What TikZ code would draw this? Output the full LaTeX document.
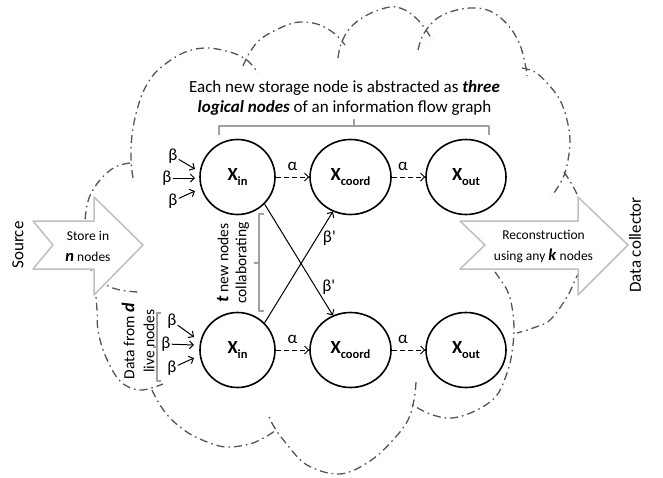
\documentclass[tikz,border=0pt]{standalone}
\usepackage{fontspec}
\setmainfont{Carlito}
\usetikzlibrary{arrows.meta,shapes.geometric}
\definecolor{cloudgray}{HTML}{555555}
\definecolor{arrowgray}{HTML}{BFBFBF}
\definecolor{brkgray}{HTML}{A0A0A0}
\newcommand{\xlab}[1]{{\fontsize{18.5}{18.5}\selectfont\bfseries X\raisebox{-4.5pt}{\fontsize{12.5}{12.5}\selectfont #1}}}
\newcommand{\bitx}[1]{\textbf{\textit{#1}}}
\begin{document}
\begin{tikzpicture}[x=1pt,y=-1pt,line join=round,
  cloudl/.style={draw=cloudgray, line width=1.3pt, dash pattern=on 8pt off 4pt on 1.6pt off 4pt},
  blockarrow/.style={draw=arrowgray, line width=1.5pt, fill=white},
  xnode/.style={draw=black, line width=1.6pt, ellipse, inner sep=0pt, minimum height=75pt},
  alph/.style={-{Straight Barb[length=4pt,width=8pt]}, line width=1pt, dash pattern=on 5pt off 3pt},
  sarr/.style={-{Straight Barb[length=4pt,width=8pt]}, line width=1pt},
  lbl/.style={font=\fontsize{17}{17}\selectfont, inner sep=1pt},
  brk/.style={draw=brkgray, line width=1.3pt}]
\useasboundingbox (0,0) rectangle (663,477);
% ---------- cloud ----------
\draw[cloudl] plot[smooth, tension=0.6] coordinates {(133,178) (131,160) (132,135) (137,110) (145,88) (158,70) (183,53) (207,48) (233,53) (248,61) (258,73)};
\draw[cloudl] plot[smooth, tension=0.6] coordinates {(243,66) (250,52) (262,38) (287,25) (303,22) (320,25) (335,34) (345,45)};
\draw[cloudl] plot[smooth, tension=0.6] coordinates {(338,58) (341,44) (350,28) (367,15) (390,7) (405,10) (418,20) (428,33) (432,40)};
\draw[cloudl] plot[smooth, tension=0.6] coordinates {(418,50) (423,35) (435,20) (450,12) (470,8) (490,11) (508,25) (520,45) (526,68) (527,76)};
\draw[cloudl] plot[smooth, tension=0.6] coordinates {(522,68) (535,72) (548,84) (560,100) (567,120) (570,140) (568,160) (563,178) (552,196)};
\draw[cloudl] plot[smooth, tension=0.6] coordinates {(564,172) (575,190) (585,215) (588,240) (584,262) (576,278) (567,297) (550,320) (533,328) (517,333)};
\draw[cloudl] plot[smooth, tension=0.6] coordinates {(495,272) (507,290) (512,307) (514,330) (512,352) (508,370) (497,395) (477,410) (452,418) (430,414) (411,404)};
\draw[cloudl] plot[smooth, tension=0.6] coordinates {(416,382) (414,400) (408,420) (393,440) (370,461) (340,474) (307,465) (285,442) (273,425) (268,414)};
\draw[cloudl] plot[smooth, tension=0.6] coordinates {(152,390) (160,405) (172,420) (190,434) (210,443) (227,447) (250,444) (267,436) (276,430)};
\draw[cloudl] plot[smooth, tension=0.6] coordinates {(95,285) (97,310) (98,330) (105,355) (120,381) (140,390) (163,384)};
\draw[cloudl] plot[smooth, tension=0.6] coordinates {(130,163) (115,167) (100,180) (89,198) (85,220) (84,245) (90,268) (105,284) (120,290) (138,292)};
% ---------- block arrows ----------
\draw[blockarrow] (33,221) -- (53,245) -- (33,269) -- (94,269) -- (94,295) -- (143,245) -- (94,197) -- (94,221) -- cycle;
\draw[blockarrow] (460,221) -- (485,245) -- (460,269) -- (578,269) -- (578,295) -- (628,245) -- (578,197) -- (578,221) -- cycle;
\node[font=\fontsize{13.5}{21}\selectfont, align=center] (store) at (88,246) {Store in\\{\fontsize{16.5}{16.5}\selectfont\bitx{n}} nodes};
\node[font=\fontsize{13.5}{21}\selectfont, align=center] (recon) at (543.5,246) {Reconstruction\\using any {\fontsize{16.5}{16.5}\selectfont\bitx{k}} nodes};
\node[font=\fontsize{17}{17}\selectfont, rotate=90] (src) at (18,245) {Source};
\node[font=\fontsize{17}{17}\selectfont, rotate=90] (dc) at (635,245) {Data collector};
% ---------- title and brackets ----------
\node[font=\fontsize{17}{20.5}\selectfont, align=center] (title) at (344.5,98) {Each new storage node is abstracted as \bitx{three}\\\bitx{logical nodes} of an information flow graph};
\draw[brk] (219,135) -- (219,126) -- (489,126) -- (489,135);
\draw[brk] (354,126) -- (354,119);
\draw[brk] (264,214) -- (259,214) -- (259,311) -- (264,311);
\draw[brk] (259,263) -- (254,263);
\draw[brk] (161,313) -- (157,313) -- (157,381) -- (161,381);
\draw[brk] (157,347) -- (153,347);
\node[font=\fontsize{15.5}{18}\selectfont, align=center, rotate=90] (tnew) at (233,263) {{\fontsize{18}{18}\selectfont\bitx{t}} new nodes\\collaborating};
\node[font=\fontsize{15.5}{20}\selectfont, align=center, rotate=90] (dfrom) at (138,341) {Data from {\fontsize{18}{18}\selectfont\bitx{d}}\\live nodes};
% ---------- logical nodes ----------
\node[xnode, minimum width=75pt] (xin1) at (237.5,177) {\xlab{in}};
\node[xnode, minimum width=81pt] (xc1) at (350.5,177) {\xlab{coord}};
\node[xnode, minimum width=80pt] (xo1) at (466,177) {\xlab{out}};
\node[xnode, minimum width=75pt] (xin2) at (237.5,350) {\xlab{in}};
\node[xnode, minimum width=81pt] (xc2) at (350.5,350) {\xlab{coord}};
\node[xnode, minimum width=80pt] (xo2) at (466,350) {\xlab{out}};
\draw[alph] (xin1) -- node[lbl, above=5pt] (a1) {α} (xc1);
\draw[alph] (xc1) -- node[lbl, above=5pt, pos=0.33] (a2) {α} (xo1);
\draw[alph] (xin2) -- node[lbl, above=5pt] (a3) {α} (xc2);
\draw[alph] (xc2) -- node[lbl, above=5pt, pos=0.33] (a4) {α} (xo2);
\draw[sarr] (xin1.-45) -- node[lbl, pos=0.75, anchor=west, xshift=5pt] (bp2) {β\textquotesingle} (xc2.117);
\draw[sarr] (xin2.45) -- node[lbl, pos=0.76, anchor=west, xshift=5pt] (bp1) {β\textquotesingle} (xc1.-117);
% ---------- incoming beta ----------
\node[lbl] (bt1) at (173,156) {β};
\node[lbl] (bt2) at (167,178) {β};
\node[lbl] (bt3) at (173,201) {β};
\coordinate (et1) at (195,169);
\coordinate (et2) at (195,178);
\coordinate (et3) at (195,191);
\draw[sarr] (bt1) -- (et1);
\draw[sarr] (bt2) -- (et2);
\draw[sarr] (bt3) -- (et3);
\node[lbl] (bb1) at (172,321) {β};
\node[lbl] (bb2) at (166,344) {β};
\node[lbl] (bb3) at (172,368) {β};
\coordinate (eb1) at (194,337);
\coordinate (eb2) at (194,345);
\coordinate (eb3) at (194,358);
\draw[sarr] (bb1) -- (eb1);
\draw[sarr] (bb2) -- (eb2);
\draw[sarr] (bb3) -- (eb3);
\end{tikzpicture}
\end{document}
